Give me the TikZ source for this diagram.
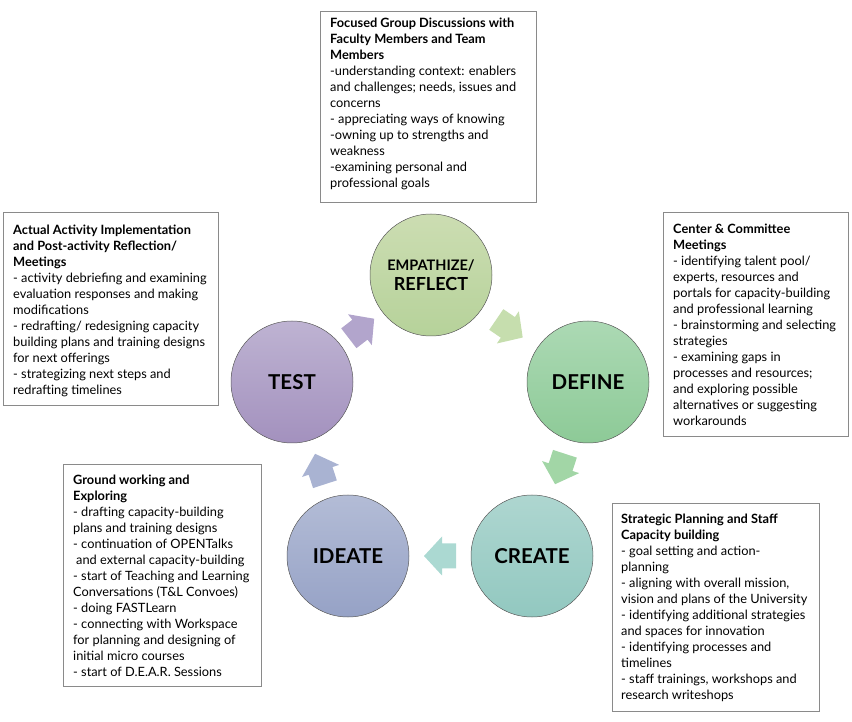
\documentclass[tikz,border=0pt]{standalone}
\usepackage{fontspec}
\setmainfont{Lato}
\usetikzlibrary{calc}
\definecolor{boxgray}{HTML}{8A8A8A}
\definecolor{circgray}{HTML}{5A5A5A}
\definecolor{empT}{HTML}{CCDDB2}\definecolor{empB}{HTML}{B6D29A}
\definecolor{defT}{HTML}{ACD9B4}\definecolor{defB}{HTML}{8DCA97}
\definecolor{creT}{HTML}{AED6D0}\definecolor{creB}{HTML}{92C8C0}
\definecolor{ideT}{HTML}{B3BCD6}\definecolor{ideB}{HTML}{96A2C6}
\definecolor{tstT}{HTML}{BEB3D2}\definecolor{tstB}{HTML}{A391BE}
\definecolor{arA}{HTML}{B2A5CC}\definecolor{arB}{HTML}{C6DEAE}
\definecolor{arC}{HTML}{A2D6A6}\definecolor{arD}{HTML}{ABD9D2}
\definecolor{arE}{HTML}{A9B3D2}
\newcommand{\blockarrow}[3]{% coordinate, angle, colour
  \begin{scope}[shift={(#1)}, rotate=#2]
    \fill[#3] (-16,-12.5) -- (-2,-12.5) -- (-2,-19.5) -- (16,0) -- (-2,19.5) -- (-2,12.5) -- (-16,12.5) -- cycle;
  \end{scope}}
\begin{document}
\begin{tikzpicture}[x=1pt,y=1pt,
  infobox/.style={draw=boxgray, line width=0.8pt, fill=white},
  infotext/.style={anchor=north west, inner sep=0pt, align=left, font=\fontsize{12.8}{15.95}\selectfont},
  stage/.style={circle, draw=circgray, line width=0.5pt, minimum size=122pt, inner sep=0pt, font=\fontsize{20.5}{21}\selectfont\bfseries},
]
\useasboundingbox (0,0) rectangle (852,721);
% text boxes
\draw[infobox] (320,710) rectangle (536,519);
\node[infotext] (t1) at (330,703) {\textbf{Focused Group Discussions with}\\
\textbf{Faculty Members and Team}\\
\textbf{Members}\\
-understanding context: enablers\\
and challenges; needs, issues and\\
concerns\\
- appreciating ways of knowing\\
-owning up to strengths and\\
weakness\\
-examining personal and\\
professional goals};
\draw[infobox] (3,509) rectangle (218,316);
\node[infotext] (t2) at (13,496) {\textbf{Actual Activity Implementation}\\
\textbf{and Post-activity Reflection/}\\
\textbf{Meetings}\\
- activity debriefing and examining\\
evaluation responses and making\\
modifications\\
- redrafting/ redesigning capacity\\
building plans and training designs\\
for next offerings\\
- strategizing next steps and\\
redrafting timelines};
\draw[infobox] (663,509) rectangle (848,285);
\node[infotext] (t3) at (673,497) {\textbf{Center \& Committee}\\
\textbf{Meetings}\\
- identifying talent pool/\\
experts, resources and\\
portals for capacity-building\\
and professional learning\\
- brainstorming and selecting\\
strategies\\
- examining gaps in\\
processes and resources;\\
and exploring possible\\
alternatives or suggesting\\
workarounds};
\draw[infobox] (63,257) rectangle (261,35);
\node[infotext] (t4) at (73,246) {\textbf{Ground working and}\\
\textbf{Exploring}\\
- drafting capacity-building\\
plans and training designs\\
- continuation of OPENTalks\\
\hspace*{3pt}and external capacity-building\\
- start of Teaching and Learning\\
Conversations (T\&L Convoes)\\
- doing FASTLearn\\
- connecting with Workspace\\
for planning and designing of\\
initial micro courses\\
- start of D.E.A.R. Sessions};
\draw[infobox] (612,218) rectangle (819,10);
\node[infotext] (t5) at (621,207) {\textbf{Strategic Planning and Staff}\\
\textbf{Capacity building}\\
- goal setting and action-\\
planning\\
- aligning with overall mission,\\
vision and plans of the University\\
- identifying additional strategies\\
and spaces for innovation\\
- identifying processes and\\
timelines\\
- staff trainings, workshops and\\
research writeshops};
% circles
\node[stage, top color=empT, bottom color=empB, align=center] (emp) at (431,446)
  {{\fontsize{14.5}{17}\selectfont EMPATHIZE/}\\[-1pt]{\fontsize{18}{19}\selectfont REFLECT}};
\node[stage, top color=defT, bottom color=defB] (def) at (588,339) {DEFINE};
\node[stage, top color=creT, bottom color=creB] (cre) at (532,165) {CREATE};
\node[stage, top color=ideT, bottom color=ideB] (ide) at (348,165) {IDEATE};
\node[stage, top color=tstT, bottom color=tstB] (tst) at (292,339) {TEST};
% block arrows
\coordinate (m1) at ($(tst)!0.5!(emp)$);
\coordinate (m2) at ($(emp)!0.5!(def)$);
\coordinate (m3) at ($(def)!0.5!(cre)$);
\coordinate (m4) at ($(cre)!0.5!(ide)$);
\coordinate (m5) at ($(ide)!0.5!(tst)$);
\blockarrow{m1}{37.6}{arA}
\blockarrow{m2}{-34.3}{arB}
\blockarrow{m3}{-108}{arC}
\blockarrow{m4}{180}{arD}
\blockarrow{m5}{108}{arE}
\end{tikzpicture}
\end{document}
